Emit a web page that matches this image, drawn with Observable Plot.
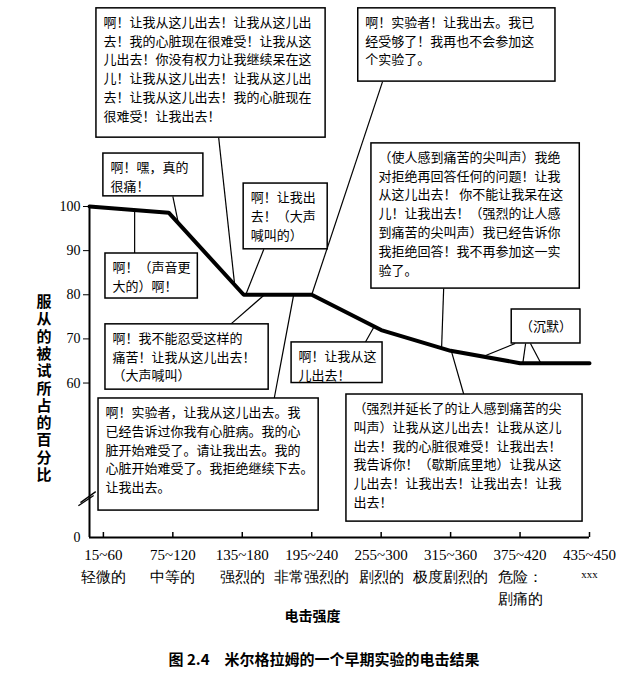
<!DOCTYPE html>
<html><head><meta charset="utf-8">
<script src="https://cdn.jsdelivr.net/npm/d3@7"></script>
<script src="https://cdn.jsdelivr.net/npm/@observablehq/plot@0.6"></script>
<style>
body{margin:0;background:#fff;}
#caption{width:632px;padding-left:8px;text-align:center;font:bold 15px "Noto Sans CJK SC",sans-serif;height:28px;line-height:28px;color:#000;}
</style></head><body>
<div id="chart"></div>
<div id="caption">图 2.4　米尔格拉姆的一个早期实验的电击结果</div>
<script>
// ---- data ----
const shockRanges = ["15~60","75~120","135~180","195~240","255~300","315~360","375~420","435~450"];
const shockLabels = ["轻微的","中等的","强烈的","非常强烈的","剧烈的","极度剧烈的","危险：\n剧痛的","xxx"];
const shockIndex = [0,1,2,3,4,5,6,7];
// obedience curve (position on shock-level axis, % of subjects still obeying)
const curveLevel = [-0.2, 0.94, 2.02, 3, 4, 5, 6, 7];
const curvePercent = [100, 98.6, 80, 80, 72, 67.3, 64.5, 64.5];
const yTicks = [60, 70, 80, 90, 100];
const yBase = 25;        // broken axis baseline, labelled "0"
const yTitle = "服从的被试所占的百分比";
const xTitle = "电击强度";

// annotation texts
const noteTexts = [
 "啊！让我从这儿出去！让我从这儿出\n去！我的心脏现在很难受！让我从这\n儿出去！你没有权力让我继续呆在这\n儿！让我从这儿出去！让我从这儿出\n去！让我从这儿出去！我的心脏现在\n很难受！让我出去！",
 "啊！实验者！让我出去。我已\n经受够了！我再也不会参加这\n个实验了。",
 "啊！嘿，真的\n很痛！",
 "啊！（声音更\n大的）啊！",
 "啊！让我出\n去！（大声\n喊叫的）",
 "啊！我不能忍受这样的\n痛苦！让我从这儿出去！\n（大声喊叫）",
 "啊！实验者，让我从这儿出去。我\n已经告诉过你我有心脏病。我的心\n脏开始难受了。请让我出去。我的\n心脏开始难受了。我拒绝继续下去。\n让我出去。",
 "啊！让我从这\n儿出去！",
 "（使人感到痛苦的尖叫声）我绝\n对拒绝再回答任何的问题！让我\n从这儿出去！ 你不能让我呆在这\n儿！让我出去！（强烈的让人感\n到痛苦的尖叫声）我已经告诉你\n我拒绝回答！我不再参加这一实\n验了。",
 "（沉默）",
 "（强烈并延长了的让人感到痛苦的尖\n叫声）让我从这儿出去！让我从这儿\n出去！我的心脏很难受！让我出去！\n我告诉你！（歇斯底里地）让我从这\n儿出去！让我出去！让我出去！让我\n出去！"
];

// ---- layout of annotation boxes (in chart units) ----
const boxes = [
 {x1:-0.1, x2:3.2,  y1:115.6, y2:144.9, links:[[1.66,115.6,1.89,82.3]]},
 {x1:3.67, x2:6.51, y1:128.3, y2:144.9, links:[[4.02,128.3,3.0,80]]},
 {x1:0.0,  x2:1.44, y1:102.3, y2:112.0, links:[[1.0,102.3,1.08,96.2]]},
 {x1:0.03, x2:1.36, y1:79.15, y2:89.35, links:[[0.45,89.35,0.45,99.2]]},
 {x1:2.02, x2:3.23, y1:90.3,  y2:105.2, links:[[2.31,90.3,2.05,80]]},
 {x1:0.03, x2:2.38, y1:58.5,  y2:73.3,  links:[[1.83,73.3,2.32,80]]},
 {x1:-0.07,x2:3.1,  y1:31.1,  y2:56.5,  links:[[2.46,56.5,2.74,80]]},
 {x1:2.71, x2:4.02, y1:60.0,  y2:69.2,  links:[[3.77,69.2,3.9,72.8]]},
 {x1:3.86, x2:6.86, y1:81.4,  y2:114.3, links:[[4.9,81.4,4.87,67.9]]},
 {x1:5.88, x2:6.87, y1:68.96, y2:76.66, center:true, links:[[5.93,68.96,5.47,66.0],[6.08,68.96,6.04,64.5],[6.15,68.96,6.3,64.5]]},
 {x1:3.5,  x2:6.9,  y1:28.6,  y2:57.4,  links:[[5.19,57.4,5.01,67.3]]}
];
const notes = boxes.map((b, i) => ({...b, text: noteTexts[i]}));
const noteLinks = notes.flatMap(n => n.links.map(([x1,y1,x2,y2]) => ({x1,y1,x2,y2})));
const curve = curveLevel.map((x, i) => ({x, y: curvePercent[i]}));
const breakMarks = [
 {x1:-0.33, y1:32.9, x2:-0.11, y2:35.4},
 {x1:-0.36, y1:32.2, x2:-0.14, y2:34.5}
];

const cjk = "Noto Sans CJK SC";
const serif = "Liberation Serif";

const chart = Plot.plot({
  width: 640,
  height: 645,
  marginLeft: 89,
  marginRight: 51,
  marginTop: 206,
  marginBottom: 108,
  style: {fontFamily: serif, fontSize: "14px", color: "#000", background: "#fff"},
  x: {domain: [-0.2, 7], axis: null},
  y: {domain: [yBase, 100], ticks: yTicks, tickSize: 6, tickPadding: 3, label: null},
  marks: [
    // axes lines
    Plot.ruleX([-0.2], {y1: yBase, y2: 100, strokeWidth: 2}),
    Plot.ruleY([yBase], {x1: -0.2, x2: 7, strokeWidth: 2}),
    Plot.ruleX(shockIndex, {x: d => d, y1: yBase, y2: yBase, insetTop: -5, strokeWidth: 1.5}),
    Plot.link(breakMarks, {x1: "x1", y1: "y1", x2: "x2", y2: "y2", strokeWidth: 1.3}),
    Plot.text(["0"], {x: -0.2, y: yBase, dx: -9, textAnchor: "end", fontSize: 14, fontFamily: serif}),
    // x tick labels
    Plot.text(shockRanges, {x: (d, i) => shockIndex[i], y: yBase, dy: 18, fontSize: 15, fontFamily: serif}),
    Plot.text(shockLabels, {x: (d, i) => shockIndex[i], y: yBase, dy: 29, lineAnchor: "top", lineHeight: 1.45,
      fontSize: d => d === "xxx" ? 11 : 15, fontFamily: d => d === "xxx" ? serif : cjk}),
    Plot.text([xTitle], {frameAnchor: "bottom", dx: -27, dy: 83, fontSize: 14, fontWeight: "bold", fontFamily: cjk}),
    Plot.text([yTitle], {text: d => [...d].join("\n"), frameAnchor: "left", dx: -53, dy: 16, lineHeight: 17.3/15,
      fontSize: 15, fontWeight: "bold", fontFamily: cjk}),
    // connectors, curve, boxes
    Plot.link(noteLinks, {x1: "x1", y1: "y1", x2: "x2", y2: "y2", strokeWidth: 1.2}),
    Plot.line(curve, {x: "x", y: "y", strokeWidth: 4, strokeLinejoin: "miter"}),
    Plot.rect(notes, {x1: "x1", x2: "x2", y1: "y1", y2: "y2", fill: "#fff", stroke: "#000", strokeWidth: 1.5}),
    Plot.text(notes.filter(n => !n.center), {x: "x1", y: "y2", text: "text", textAnchor: "start", lineAnchor: "top",
      dx: 7, dy: 5, lineHeight: 1.45, fontSize: 13, fontFamily: cjk}),
    Plot.text(notes.filter(n => n.center), {x: d => (d.x1 + d.x2) / 2, y: d => (d.y1 + d.y2) / 2, text: "text",
      fontSize: 13, fontFamily: cjk})
  ]
});
document.getElementById("chart").appendChild(chart);
</script>
</body></html>
